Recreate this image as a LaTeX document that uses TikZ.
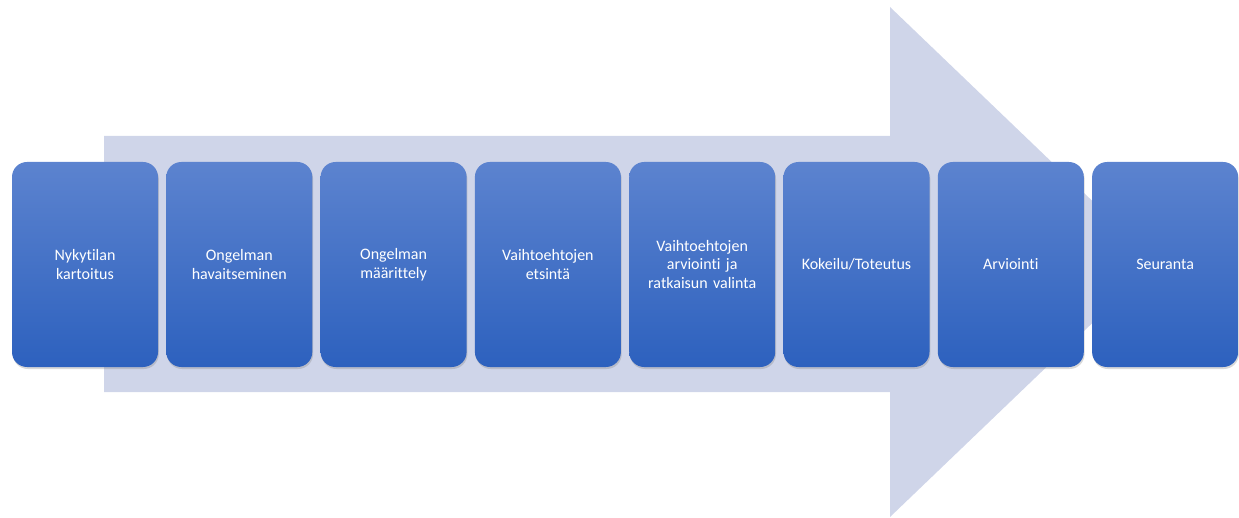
\documentclass[tikz,border=0pt]{standalone}
\usepackage{fontspec}
\setmainfont{Carlito}[Ligatures=NoCommon]
\usetikzlibrary{positioning,shadows}

\definecolor{stepTop}{RGB}{92,131,207}
\definecolor{stepBottom}{RGB}{45,97,190}
\definecolor{arrowBg}{RGB}{207,213,233}

\tikzset{
  stepbox/.style={rectangle, rounded corners=15pt, minimum width=146pt,
    minimum height=205pt, text width=136pt, align=center, inner sep=0pt,
    outer sep=0pt, top color=stepTop, bottom color=stepBottom, text=white,
    font=\fontsize{16}{18.5}\selectfont,
    drop shadow={shadow xshift=0.8pt, shadow yshift=-2pt, opacity=0.3}},
}

\begin{document}
\begin{tikzpicture}[x=1pt,y=-1pt]
\useasboundingbox (0,0) rectangle (1239,518);
% the big arrow behind the steps
\fill[arrowBg] (104,136) -- (890,136) -- (890,7) -- (1156,262)
  -- (890,517) -- (890,392) -- (104,392) -- cycle;
% steps
\node[stepbox] (kartoitus) at (85,264.5) {Nykytilan\\kartoitus};
\node[stepbox, right=8.3pt of kartoitus] (havainto) {Ongelman\\havaitseminen};
\node[stepbox, right=8.3pt of havainto] (maarittely) {Ongelman\\määrittely};
\node[stepbox, right=8.3pt of maarittely] (etsinta) {Vaihtoehtojen\\etsintä};
\node[stepbox, right=8.3pt of etsinta] (valinta) {Vaihtoehtojen\\arviointi ja\\ratkaisun valinta};
\node[stepbox, right=8.3pt of valinta] (toteutus) {Kokeilu/Toteutus};
\node[stepbox, right=8.3pt of toteutus] (arviointi) {Arviointi};
\node[stepbox, right=8.3pt of arviointi] (seuranta) {Seuranta};
\end{tikzpicture}
\end{document}
